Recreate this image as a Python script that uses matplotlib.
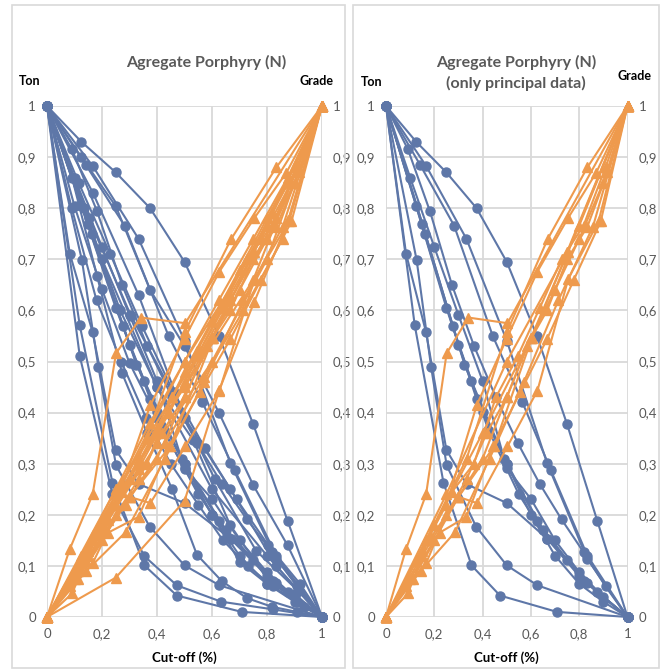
import numpy as np
import matplotlib
matplotlib.use('Agg')
import matplotlib.pyplot as plt
from matplotlib.ticker import FuncFormatter
from matplotlib.patches import Rectangle

plt.rcParams['font.family'] = ['Lato', 'DejaVu Sans']

# Principal deposits: normalized cut-off vs normalized tonnage (Ton) / grade (Grade)
principal_ton_cutoff = [
    [0, .125, .25, .375, .5, .625, .75, .875, 1],
    [0, .091, .182, .273, .364, .455, .545, .636, .727, .818, .909, 1],
    [0, .167, .333, .5, .667, .833, 1],
    [0, .1, .2, .3, .4, .5, .6, .7, .8, .9, 1],
    [0, .141, .282, .442, .565, .682, .834, 1],
    [0, .125, .25, .375, .5, .625, .75, .875, 1],
    [0, .083, .166, .25, .334, .5, .668, .834, 1],
    [0, .119, .238, .354, .472, .708, 1],
    [0, .127, .187, .251, .373, .5, .627, 1],
    [0, .276, .354, .424, .55, .668, .8, 1],
    [0, .15, .3, .4, .5, .6, .7, .8, .9, 1],
    [0, .163, .325, .49, .65, .82, 1],
]
principal_ton = [
    [1, .93, .87, .80, .695, .55, .377, .188, 0],
    [1, .915, .794, .65, .531, .43, .341, .261, .191, .127, .06, 0],
    [1, .882, .74, .541, .301, .114, 0],
    [1, .86, .724, .591, .462, .291, .231, .15, .088, .039, 0],
    [1, .885, .766, .55, .42, .288, .12, 0],
    [1, .804, .605, .427, .30, .188, .112, .049, 0],
    [1, .711, .557, .327, .26, .223, .153, .066, 0],
    [1, .571, .263, .101, .042, .01, 0],
    [1, .698, .489, .297, .177, .101, .062, 0],
    [1, .569, .462, .366, .24, .153, .08, 0],
    [1, .77, .533, .401, .30, .2, .12, .065, .03, 0],
    [1, .75, .494, .31, .17, .07, 0],
]
principal_grade_cutoff = [
    [0, .083, .166, .251, .341, .503, 1],
    [0, .167, .334, .5, .669, .834, 1],
    [0, .125, .25, .376, .5, .627, .753, .87, 1],
    [0, .1, .2, .3, .4, .5, .6, .7, .8, .9, 1],
    [0, .091, .182, .273, .364, .455, .545, .636, .727, .818, .909, 1],
    [0, .111, .222, .333, .444, .556, .667, .778, .889, 1],
    [0, .143, .286, .429, .571, .714, .857, 1],
    [0, .2, .4, .6, .8, 1],
    [0, .15, .30, .376, .503, .627, .755, .88, 1],
    [0, .083, .166, .25, .334, .417, .5, .583, .667, .75, .834, .917, 1],
    [0, .25, .5, .75, 1],
    [0, .15, .30, .448, .604, .753, 1],
]
principal_grade = [
    [0, .133, .24, .516, .586, .575, 1],
    [0, .15, .31, .557, .739, .88, 1],
    [0, .11, .22, .415, .545, .676, .78, .869, 1],
    [0, .075, .15, .235, .31, .43, .546, .64, .74, .85, 1],
    [0, .046, .16, .245, .30, .43, .51, .604, .70, .766, .88, 1],
    [0, .075, .165, .196, .334, .44, .544, .66, .774, 1],
    [0, .09, .166, .31, .46, .62, .764, 1],
    [0, .18, .36, .546, .766, 1],
    [0, .12, .235, .223, .334, .443, .662, .774, 1],
    [0, .06, .105, .2, .27, .36, .43, .53, .6, .7, .764, .87, 1],
    [0, .24, .5, .715, 1],
    [0, .13, .235, .334, .546, .715, 1],
]

# Additional (non-principal) deposits, shown only in the aggregate chart
extra_ton_cutoff = [
    [0, .119, .238, .354, .472, .633, .821, 1],
    [0, .091, .182, .273, .364, .455, .545, .636, .727, .818, .909, 1],
    [0, .1, .2, .3, .4, .5, .6, .7, .8, .9, 1],
    [0, .125, .25, .375, .5, .625, .75, .875, 1],
    [0, .152, .305, .457, .61, .76, .915, 1],
    [0, .133, .266, .4, .532, .666, .8, .933, 1],
    [0, .115, .23, .345, .46, .575, .69, .805, .92, 1],
    [0, .167, .333, .5, .667, .833, 1],
    [0, .2, .4, .6, .8, 1],
    [0, .09, .18, .27, .36, .45, .55, .64, .73, .82, .91, 1],
]
extra_ton = [
    [1, .511, .24, .119, .062, .03, .015, 0],
    [1, .86, .667, .477, .36, .25, .122, .07, .037, .02, .01, 0],
    [1, .804, .641, .497, .39, .29, .2, .108, .065, .045, 0],
    [1, .9, .804, .64, .53, .40, .258, .14, 0],
    [1, .78, .59, .438, .27, .13, .05, 0],
    [1, .8, .6, .45, .346, .18, .075, .02, 0],
    [1, .85, .71, .57, .44, .33, .23, .14, .065, 0],
    [1, .83, .63, .39, .25, .1, 0],
    [1, .7, .45, .25, .12, 0],
    [1, .8, .62, .5, .39, .3, .22, .15, .1, .06, .03, 0],
]
extra_grade_cutoff = [
    [0, .25, .5, .627, .753, .878, 1],
    [0, .1, .2, .3, .4, .5, .6, .7, .8, .9, 1],
    [0, .125, .25, .375, .5, .625, .75, .875, 1],
    [0, .167, .333, .5, .667, .833, 1],
    [0, .091, .182, .273, .364, .455, .545, .636, .727, .818, .909, 1],
    [0, .143, .286, .429, .571, .714, .857, 1],
    [0, .2, .4, .6, .8, 1],
    [0, .111, .222, .333, .444, .556, .667, .778, .889, 1],
    [0, .25, .5, .75, 1],
]
extra_grade = [
    [0, .077, .227, .445, .616, .776, 1],
    [0, .08, .17, .27, .37, .48, .58, .68, .78, .88, 1],
    [0, .12, .25, .38, .5, .62, .74, .86, 1],
    [0, .16, .30, .46, .62, .78, 1],
    [0, .08, .17, .26, .35, .43, .52, .61, .70, .79, .88, 1],
    [0, .11, .22, .34, .47, .6, .74, 1],
    [0, .17, .34, .5, .7, 1],
    [0, .09, .19, .29, .4, .52, .63, .74, .85, 1],
    [0, .25, .45, .66, 1],
]

BLUE = '#5E77A8'
ORANGE = '#EE9A4D'
GRID = '#D9D9D9'
TXT = '#595959'


def comma(v, pos):
    s = ('%.1f' % v).rstrip('0').rstrip('.')
    return s.replace('.', ',')


def draw_panel(fig, rect, ton_x, ton_y, gr_x, gr_y):
    ax = fig.add_axes(rect)
    for xs, ys in zip(ton_x, ton_y):
        ax.plot(xs, ys, '-o', color=BLUE, lw=1.5, ms=6.5, clip_on=False, zorder=3)
    ax.set_xlim(0, 1)
    ax.set_ylim(0, 1)
    ax.set_xticks(np.arange(0, 1.01, 0.2))
    ax.set_yticks(np.arange(0, 1.01, 0.1))
    ax.xaxis.set_major_formatter(FuncFormatter(comma))
    ax.yaxis.set_major_formatter(FuncFormatter(comma))
    ax.grid(True, color=GRID, lw=1.3)
    ax.set_axisbelow(True)
    for s in ax.spines.values():
        s.set_visible(False)
    ax.tick_params(length=0, labelsize=9.5, colors=TXT, pad=8)
    ax.set_xlabel('Cut-off (%)', fontsize=9.5, fontweight='bold', color='black', labelpad=8)

    ax2 = ax.twinx()
    for xs, ys in zip(gr_x, gr_y):
        ax2.plot(xs, ys, '-^', color=ORANGE, lw=1.5, ms=6.8, clip_on=False, zorder=3)
    ax2.set_ylim(0, 1)
    ax2.set_yticks(np.arange(0, 1.01, 0.1))
    ax2.yaxis.set_major_formatter(FuncFormatter(comma))
    for s in ax2.spines.values():
        s.set_visible(False)
    ax2.tick_params(length=0, labelsize=9.5, colors=TXT, pad=8)
    return ax


fig = plt.figure(figsize=(6.64, 6.70), dpi=100)

# chart area borders
fig.patches.append(Rectangle((12 / 664, 2 / 670), 333 / 664, 663 / 670, transform=fig.transFigure,
                             fill=False, edgecolor=GRID, lw=1.2))
fig.patches.append(Rectangle((353 / 664, 2 / 670), 306 / 664, 663 / 670, transform=fig.transFigure,
                             fill=False, edgecolor=GRID, lw=1.2))

# Aggregate (all data)
draw_panel(fig, [47 / 664, 53 / 670, 275 / 664, 511 / 670],
           principal_ton_cutoff + extra_ton_cutoff, principal_ton + extra_ton,
           principal_grade_cutoff + extra_grade_cutoff, principal_grade + extra_grade)
fig.text(206 / 664, 1 - 62 / 670, 'Agregate Porphyry (N)', ha='center', va='center',
         fontsize=11.5, fontweight='bold', color=TXT)
fig.text(30 / 664, 1 - 81 / 670, 'Ton', ha='center', va='center', fontsize=9, fontweight='bold')
fig.text(316 / 664, 1 - 81 / 670, 'Grade', ha='center', va='center', fontsize=9, fontweight='bold')

# Only principal data
draw_panel(fig, [386 / 664, 53 / 670, 241.5 / 664, 511 / 670],
           principal_ton_cutoff, principal_ton, principal_grade_cutoff, principal_grade)
fig.text(516 / 664, 1 - 62 / 670, 'Agregate Porphyry (N)', ha='center', va='center',
         fontsize=11.5, fontweight='bold', color=TXT)
fig.text(516 / 664, 1 - 83 / 670, '(only principal data)', ha='center', va='center',
         fontsize=11.5, fontweight='bold', color=TXT)
fig.text(372 / 664, 1 - 82 / 670, 'Ton', ha='center', va='center', fontsize=9, fontweight='bold')
fig.text(635 / 664, 1 - 76 / 670, 'Grade', ha='center', va='center', fontsize=9, fontweight='bold')

fig.savefig('out.png', dpi=100)
